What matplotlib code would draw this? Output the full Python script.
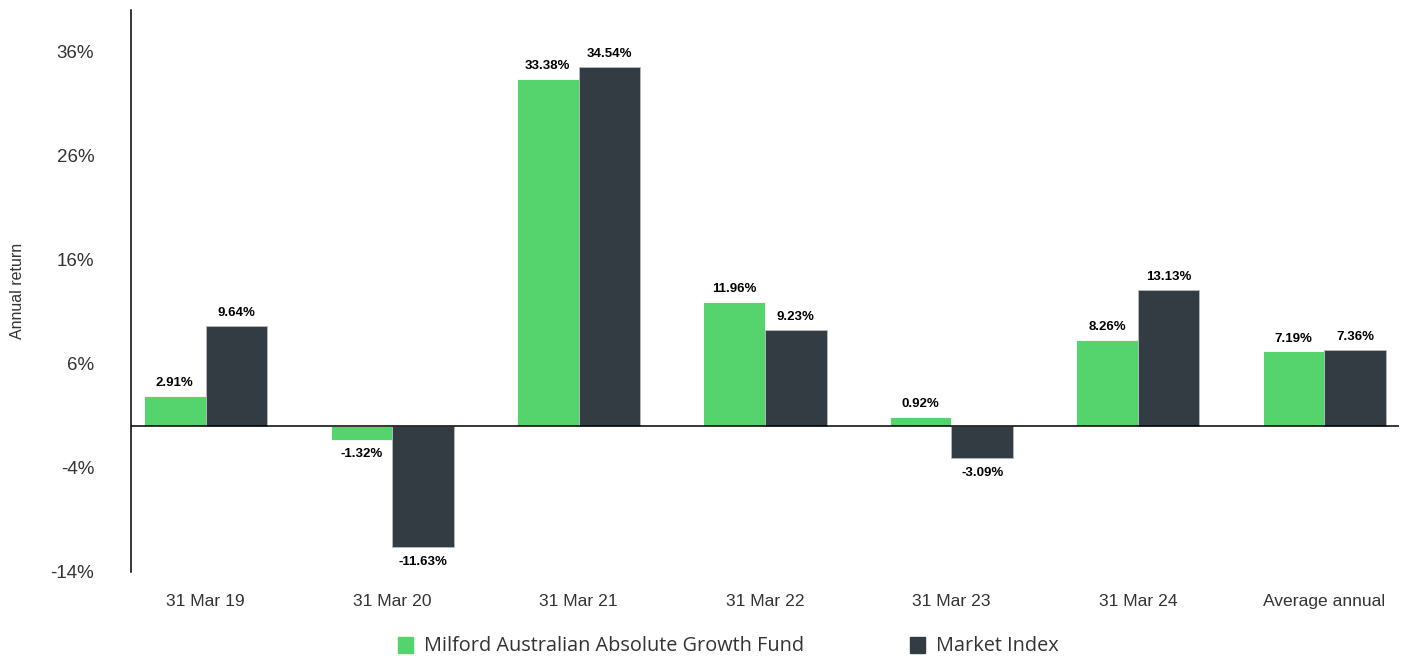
import matplotlib.pyplot as plt
import numpy as np
from matplotlib.patches import Rectangle

categories = ["31 Mar 19", "31 Mar 20", "31 Mar 21", "31 Mar 22", "31 Mar 23", "31 Mar 24", "Average annual"]
fund = [2.91, -1.32, 33.38, 11.96, 0.92, 8.26, 7.19]
index = [9.64, -11.63, 34.54, 9.23, -3.09, 13.13, 7.36]
yticks = [-14, -4, 6, 16, 26, 36]

GREEN = "#55d46e"
DARK = "#323c42"

plt.rcParams["font.family"] = ["Liberation Sans", "DejaVu Sans"]

fig = plt.figure(figsize=(14.03, 6.56), dpi=100)
ax = fig.add_axes([131 / 1403, 1 - 572 / 656, 1268 / 1403, 562 / 656])

x = np.arange(len(categories))
w = 0.33
b1 = ax.bar(x - w / 2, fund, w, color=GREEN, edgecolor="white", linewidth=0.6)
b2 = ax.bar(x + w / 2, index, w, color=DARK, edgecolor="#b8bcbf", linewidth=0.6)

for bars, vals in ((b1, fund), (b2, index)):
    for bar, v in zip(bars, vals):
        cx = bar.get_x() + bar.get_width() / 2
        if v >= 0:
            ax.annotate(f"{v:.2f}%", (cx, v), xytext=(0, 5), textcoords="offset points",
                        ha="center", va="bottom", fontsize=9.5, fontweight="bold", color="black")
        else:
            ax.annotate(f"{v:.2f}%", (cx, v), xytext=(0, -6), textcoords="offset points",
                        ha="center", va="top", fontsize=9.5, fontweight="bold", color="black")

ax.axhline(0, color="black", linewidth=1.1)
ax.set_xlim(-0.4, len(categories) - 0.6)
ax.set_ylim(-14, 40)
ax.set_yticks(yticks)
ax.set_yticklabels([f"{t}%" for t in yticks])
ax.set_xticks(x)
ax.set_xticklabels(categories)
ax.tick_params(axis="y", length=0, pad=26.5, labelsize=13.5, labelcolor="#333333")
ax.tick_params(axis="x", length=0, pad=15.5, labelsize=12.6, labelcolor="#333333")
for s in ("top", "right", "bottom"):
    ax.spines[s].set_visible(False)
ax.spines["left"].set_linewidth(1.1)
ax.set_ylabel("Annual return", fontsize=11.5, color="#333333")
ax.yaxis.set_label_coords(-106 / 1268, 0.5)

# legend drawn by hand
for sx, tx, col, label in ((398, 424, GREEN, "Milford Australian Absolute Growth Fund"),
                           (910, 936, DARK, "Market Index")):
    fig.add_artist(Rectangle((sx / 1403, 1 - 653 / 656), 15 / 1403, 16 / 656,
                             transform=fig.transFigure, color=col))
    fig.text(tx / 1403, 1 - 646 / 656, label, fontsize=14.3, va="center", ha="left",
             color="#333333", family=["Open Sans", "DejaVu Sans"])

fig.savefig("out.png", dpi=100, facecolor="white")
